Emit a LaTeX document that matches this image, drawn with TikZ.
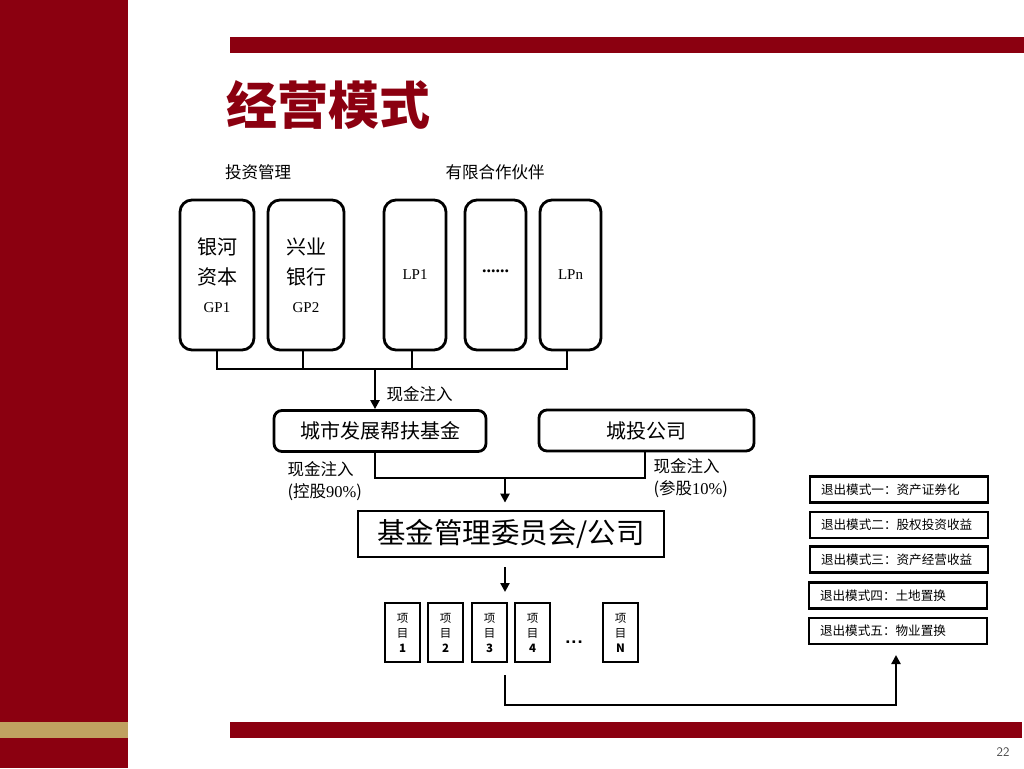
\documentclass[tikz,border=0pt]{standalone}
\usepackage{fontspec}
\setmainfont{Liberation Serif}
\newfontfamily\cjk{Noto Sans CJK SC}
\usetikzlibrary{positioning,arrows.meta}
\definecolor{darkred}{HTML}{8B0010}
\definecolor{gold}{HTML}{C0A060}
\tikzset{
  partner/.style={draw,line width=2.8pt,rounded corners=12pt,minimum height=150pt,align=center,font=\fontsize{20}{30}\selectfont},
  fundbox/.style={draw,line width=2.8pt,rounded corners=8pt,minimum height=41pt,font=\cjk\fontsize{20}{22}\selectfont},
  project/.style={draw,line width=2.8pt,minimum width=35pt,minimum height=59pt,align=center,inner sep=0pt,font=\cjk\fontsize{11.5}{15}\selectfont},
  exitbox/.style={draw,line width=2.8pt,minimum width=178pt,minimum height=26pt,inner sep=0pt,text width=156pt,align=left,font=\cjk\fontsize{12.6}{14}\selectfont},
  lbl/.style={font=\cjk\fontsize{16.5}{22}\selectfont,align=left},
  link/.style={line width=2.8pt},
  arrow/.style={line width=2.8pt,-{Triangle[width=9pt,length=9pt]}}
}
\begin{document}
\begin{tikzpicture}[x=1pt,y=-1pt]
    \useasboundingbox (0,0) rectangle (1024,768);
    % page frame
    \fill[darkred] (0,0) rectangle (128,768);
    \fill[gold] (0,722) rectangle (128,738);
    \fill[darkred] (230,37) rectangle (1024,53);
    \fill[darkred] (230,722) rectangle (1022,738);
    \node[anchor=west,text=darkred,font=\cjk\bfseries\fontsize{51}{51}\selectfont] (title) at (223,105) {经营模式};
    \node[text=darkgray,font=\sffamily\fontsize{13}{13}\selectfont] (page) at (1003,752) {22};
    % partners
    \node[lbl] (gplbl) at (258,172) {投资管理};
    \node[lbl] (lplbl) at (495,172) {有限合作伙伴};
    \node[partner,minimum width=74pt] (gp1) at (217,275) {{\cjk 银河}\\{\cjk 资本}\\[-2pt]{\fontsize{15}{15}\selectfont GP1}};
    \node[partner,minimum width=76pt] (gp2) at (306,275) {{\cjk 兴业}\\{\cjk 银行}\\[-2pt]{\fontsize{15}{15}\selectfont GP2}};
    \node[partner,minimum width=62pt,font=\fontsize{15}{15}\selectfont] (lp1) at (415,275) {LP1};
    \node[partner,minimum width=61pt,font=\fontsize{18}{18}\selectfont] (lpdots) at (495.5,275) {\raisebox{7pt}{\textbf{......}}};
    \node[partner,minimum width=61pt,font=\fontsize{15}{15}\selectfont] (lpn) at (570.5,275) {LPn};
    \draw[link] (gp1.south) |- (567,369) -- (567,350);
    \draw[link] (gp2.south -| 303,0) -- (303,369);
    \draw[link] (lp1.south -| 412,0) -- (412,369);
    \coordinate (bus) at (375,369);
    % funds
    \node[fundbox,minimum width=212pt] (fund) at (380,431) {城市发展帮扶基金};
    \node[fundbox,minimum width=215pt] (ctgs) at (646.5,430.5) {城投公司};
    \draw[arrow] (bus) -- (bus |- fund.north);
    \node[lbl,anchor=west] (cash0) at (383,394) {现金注入};
    \coordinate (merge) at (505,478);
    \draw[link] (fund.south -| bus) |- (merge) -| (ctgs.south -| 645,0);
    \node[lbl,anchor=west] (cash1) at (284,481) {现金注入\\({\cjk 控股}{\rmfamily 90\%})};
    \node[lbl,anchor=west] (cash2) at (650,478) {现金注入\\({\cjk 参股}{\rmfamily 10\%})};
    \node[draw,line width=2.8pt,minimum width=306pt,minimum height=46pt,font=\cjk\fontsize{28.5}{30}\selectfont] (board) at (511,534) {基金管理委员会/公司};
    \draw[arrow,shorten >=7pt] (merge) -- (merge |- board.north);
    % projects
    \node[project] (p1) at (402.5,632.5) {项\\目\\\textbf{1}};
    \node[project] (p2) at (445.5,632.5) {项\\目\\\textbf{2}};
    \node[project] (p3) at (489.5,632.5) {项\\目\\\textbf{3}};
    \node[project] (p4) at (532.5,632.5) {项\\目\\\textbf{4}};
    \node[font=\sffamily\bfseries\fontsize{20}{20}\selectfont] (pdots) at (574,642) {...};
    \node[project] (pn) at (620.5,632.5) {项\\目\\\textbf{N}};
    \coordinate (down) at (505,567);
    \draw[arrow] (down) -- (505,592);
    % exits
    \node[exitbox] (ex1) at (899,489.5) {退出模式一：资产证券化};
    \node[exitbox] (ex2) at (899,525) {退出模式二：股权投资收益};
    \node[exitbox] (ex3) at (899,559.5) {退出模式三：资产经营收益};
    \node[exitbox] (ex4) at (898,595.5) {退出模式四：土地置换};
    \node[exitbox] (ex5) at (898,631) {退出模式五：物业置换};
    \coordinate (out) at (505,675);
    \coordinate (exitin) at (896,655);
    \draw[arrow] (out) |- (650,705) -| (exitin);
\end{tikzpicture}
\end{document}
